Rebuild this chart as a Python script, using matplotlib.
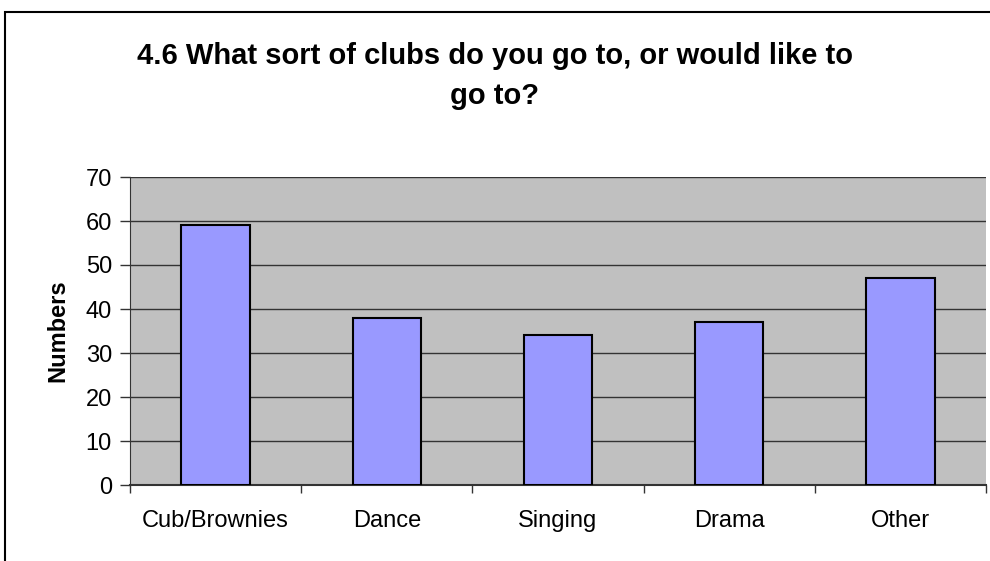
import matplotlib.pyplot as plt
import numpy as np
from matplotlib.patches import Rectangle

plt.rcParams['font.family'] = ['Liberation Sans', 'DejaVu Sans']

categories = ["Cub/Brownies", "Dance", "Singing", "Drama", "Other"]
values = [59, 38, 34, 37, 47]
yticks = [0, 10, 20, 30, 40, 50, 60, 70]

fig = plt.figure(figsize=(9.9, 5.61), dpi=100)
ax = fig.add_axes([130 / 990, 1 - 485 / 561, 856 / 990, 308 / 561])

x = np.arange(len(categories))
ax.set_facecolor("#c0c0c0")
ax.bar(x, values, width=0.4, color="#9999ff", edgecolor="black", linewidth=1.5, zorder=3)

ax.set_xlim(-0.5, len(categories) - 0.5)
ax.set_ylim(0, 70)
ax.set_yticks(yticks)
ax.yaxis.grid(True, color="#333333", linewidth=1.0, zorder=1)
ax.set_axisbelow(True)

# category boundaries get the tick marks, labels sit in between
ax.set_xticks(np.arange(len(categories) + 1) - 0.5)
ax.set_xticklabels([])
ax.set_xticks(x, minor=True)
ax.set_xticklabels(categories, minor=True, fontsize=17)
ax.tick_params(axis="x", which="minor", length=0, pad=18)
ax.tick_params(axis="x", which="major", length=6, width=1, color="#333333", direction="out")
ax.tick_params(axis="y", length=7, width=1, color="#333333", labelsize=17, pad=6)

for side in ["top", "right"]:
    ax.spines[side].set_visible(False)
ax.spines["left"].set_color("#333333")
ax.spines["bottom"].set_color("#333333")
ax.spines["bottom"].set_linewidth(1.5)

ax.set_ylabel("Numbers", fontsize=17, fontweight="bold", labelpad=12)

fig.text(0.5, 1 - 76 / 561, "4.6 What sort of clubs do you go to, or would like to\ngo to?",
         ha="center", va="center", fontsize=21, fontweight="bold", linespacing=1.55)

frame = Rectangle((5 / 990, -0.2), 1.2, 1.2 - 12 / 561, transform=fig.transFigure,
                  fill=False, edgecolor="black", linewidth=1.5, clip_on=False)
fig.patches.append(frame)

fig.savefig("out.png", dpi=100)
